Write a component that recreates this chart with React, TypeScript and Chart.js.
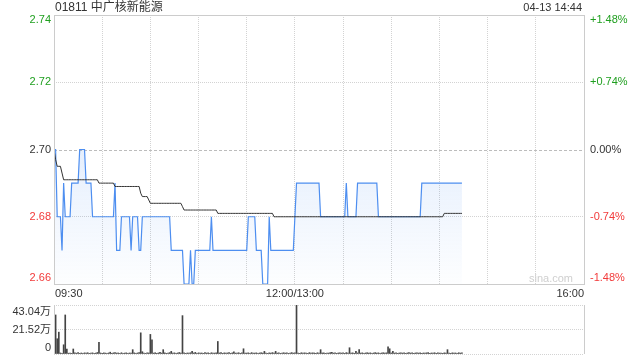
import React, { useEffect, useRef } from "react";
import { Chart, registerables } from "chart.js";

Chart.register(...registerables);

const TITLE = "01811 中广核新能源";
const TIMESTAMP = "04-13 14:44";
const PREV_CLOSE = 2.7;
const PRICE_TICKS = [2.66, 2.68, 2.7, 2.72, 2.74];
const PRICE_TICK_LABELS = ["2.66", "2.68", "2.70", "2.72", "2.74"];
const PCT_TICK_LABELS = ["-1.48%", "-0.74%", "0.00%", "+0.74%", "+1.48%"];
const TIME_GRID = [0, 30, 60, 90, 120, 150, 180, 210, 240, 270, 300, 330];
const TIME_LABELS = ["09:30", "12:00/13:00", "16:00"];
const TIME_LABEL_AT = [0, 150, 330];
const SESSION_START = 0;
const SESSION_END = 330;
const VOL_TICKS = [0, 21.52, 43.04];
const VOL_TICK_LABELS = ["0", "21.52万", "43.04万"];
const WATERMARK = "sina.com";

// one value per trading minute from 09:30 (index 0) to 14:44 (index 254)
const PRICES = [
  2.70, 2.70, 2.68, 2.68, 2.68, 2.67, 2.69, 2.68, 2.68, 2.68,
  2.68, 2.69, 2.69, 2.69, 2.69, 2.69, 2.70, 2.70, 2.70, 2.70,
  2.69, 2.69, 2.69, 2.69, 2.68, 2.68, 2.68, 2.68, 2.68, 2.68,
  2.68, 2.68, 2.68, 2.68, 2.68, 2.68, 2.68, 2.68, 2.69, 2.67,
  2.67, 2.67, 2.68, 2.68, 2.68, 2.68, 2.68, 2.68, 2.67, 2.68,
  2.68, 2.68, 2.68, 2.67, 2.67, 2.68, 2.68, 2.68, 2.68, 2.68,
  2.68, 2.68, 2.68, 2.68, 2.68, 2.68, 2.68, 2.68, 2.68, 2.68,
  2.68, 2.68, 2.68, 2.67, 2.67, 2.67, 2.67, 2.67, 2.67, 2.67,
  2.67, 2.66, 2.66, 2.66, 2.66, 2.67, 2.66, 2.66, 2.67, 2.67,
  2.67, 2.67, 2.67, 2.67, 2.67, 2.67, 2.67, 2.67, 2.68, 2.67,
  2.67, 2.67, 2.67, 2.67, 2.67, 2.67, 2.67, 2.67, 2.67, 2.67,
  2.67, 2.67, 2.67, 2.67, 2.67, 2.67, 2.67, 2.67, 2.67, 2.67,
  2.67, 2.68, 2.68, 2.68, 2.68, 2.68, 2.67, 2.67, 2.67, 2.67,
  2.66, 2.66, 2.66, 2.66, 2.68, 2.67, 2.67, 2.67, 2.67, 2.67,
  2.67, 2.67, 2.67, 2.67, 2.67, 2.67, 2.67, 2.67, 2.67, 2.67,
  2.68, 2.69, 2.69, 2.69, 2.69, 2.69, 2.69, 2.69, 2.69, 2.69,
  2.69, 2.69, 2.69, 2.69, 2.69, 2.69, 2.68, 2.68, 2.68, 2.68,
  2.68, 2.68, 2.68, 2.68, 2.68, 2.68, 2.68, 2.68, 2.68, 2.68,
  2.68, 2.68, 2.69, 2.68, 2.68, 2.68, 2.68, 2.68, 2.68, 2.69,
  2.69, 2.69, 2.69, 2.69, 2.69, 2.69, 2.69, 2.69, 2.69, 2.69,
  2.69, 2.69, 2.68, 2.68, 2.68, 2.68, 2.68, 2.68, 2.68, 2.68,
  2.68, 2.68, 2.68, 2.68, 2.68, 2.68, 2.68, 2.68, 2.68, 2.68,
  2.68, 2.68, 2.68, 2.68, 2.68, 2.68, 2.68, 2.68, 2.68, 2.69,
  2.69, 2.69, 2.69, 2.69, 2.69, 2.69, 2.69, 2.69, 2.69, 2.69,
  2.69, 2.69, 2.69, 2.69, 2.69, 2.69, 2.69, 2.69, 2.69, 2.69,
  2.69, 2.69, 2.69, 2.69, 2.69,
];

const AVG_PRICES = [
  2.700, 2.697, 2.695, 2.695, 2.695, 2.693, 2.691, 2.691, 2.691, 2.691,
  2.691, 2.691, 2.691, 2.691, 2.691, 2.691, 2.691, 2.691, 2.691, 2.691,
  2.691, 2.691, 2.691, 2.691, 2.691, 2.691, 2.691, 2.691, 2.690, 2.690,
  2.690, 2.690, 2.690, 2.690, 2.690, 2.690, 2.690, 2.690, 2.689, 2.689,
  2.689, 2.689, 2.689, 2.689, 2.689, 2.689, 2.689, 2.689, 2.689, 2.689,
  2.689, 2.689, 2.689, 2.689, 2.687, 2.686, 2.686, 2.686, 2.686, 2.685,
  2.684, 2.684, 2.684, 2.684, 2.684, 2.684, 2.684, 2.684, 2.684, 2.684,
  2.684, 2.684, 2.684, 2.684, 2.684, 2.684, 2.684, 2.684, 2.684, 2.684,
  2.683, 2.682, 2.682, 2.682, 2.682, 2.682, 2.682, 2.682, 2.682, 2.682,
  2.682, 2.682, 2.682, 2.682, 2.682, 2.682, 2.682, 2.682, 2.682, 2.682,
  2.682, 2.682, 2.681, 2.681, 2.681, 2.681, 2.681, 2.681, 2.681, 2.681,
  2.681, 2.681, 2.681, 2.681, 2.681, 2.681, 2.681, 2.681, 2.681, 2.681,
  2.681, 2.681, 2.681, 2.681, 2.681, 2.681, 2.681, 2.681, 2.681, 2.681,
  2.681, 2.681, 2.681, 2.681, 2.681, 2.681, 2.681, 2.680, 2.680, 2.680,
  2.680, 2.680, 2.680, 2.680, 2.680, 2.680, 2.680, 2.680, 2.680, 2.680,
  2.680, 2.680, 2.680, 2.680, 2.680, 2.680, 2.680, 2.680, 2.680, 2.680,
  2.680, 2.680, 2.680, 2.680, 2.680, 2.680, 2.680, 2.680, 2.680, 2.680,
  2.680, 2.680, 2.680, 2.680, 2.680, 2.680, 2.680, 2.680, 2.680, 2.680,
  2.680, 2.680, 2.680, 2.680, 2.680, 2.680, 2.680, 2.680, 2.680, 2.680,
  2.680, 2.680, 2.680, 2.680, 2.680, 2.680, 2.680, 2.680, 2.680, 2.680,
  2.680, 2.680, 2.680, 2.680, 2.680, 2.680, 2.680, 2.680, 2.680, 2.680,
  2.680, 2.680, 2.680, 2.680, 2.680, 2.680, 2.680, 2.680, 2.680, 2.680,
  2.680, 2.680, 2.680, 2.680, 2.680, 2.680, 2.680, 2.680, 2.680, 2.680,
  2.680, 2.680, 2.680, 2.680, 2.680, 2.680, 2.680, 2.680, 2.680, 2.680,
  2.680, 2.680, 2.680, 2.681, 2.681, 2.681, 2.681, 2.681, 2.681, 2.681,
  2.681, 2.681, 2.681, 2.681, 2.681,
];

// volume in 万 shares per minute
const VOLUMES = [
  0, 34.3, 13.4, 19.2, 0.9, 0.6, 8.1, 34.3, 4.4, 0.7,
  0.9, 0.6, 4.4, 1.0, 0.7, 1.2, 0.6, 0.9, 0.5, 1.0,
  0.8, 1.1, 0.6, 0.9, 1.0, 0.5, 0.8, 1.3, 10.2, 0.9,
  0.6, 1.0, 0.8, 0.5, 0.9, 1.6, 0.6, 1.0, 1.2, 0.8,
  0.9, 0.6, 1.1, 0.5, 0.8, 1.0, 0.6, 0.9, 0.8, 3.8,
  1.0, 0.6, 0.9, 1.2, 18.6, 2.0, 0.8, 0.6, 1.0, 0.9,
  17.2, 12.5, 0.8, 1.1, 0.6, 0.9, 1.5, 0.8, 3.8, 1.0,
  0.6, 0.9, 1.2, 2.3, 0.8, 1.0, 0.6, 0.9, 1.3, 0.8,
  33.7, 1.0, 0.6, 0.9, 0.8, 1.1, 2.3, 0.9, 1.4, 0.6,
  1.0, 0.8, 0.9, 0.6, 1.2, 0.8, 1.0, 0.5, 1.1, 0.9,
  0.8, 1.0, 11.0, 0.9, 1.2, 0.6, 1.0, 0.8, 0.9, 1.3,
  0.6, 1.0, 1.8, 0.8, 0.9, 1.1, 0.6, 1.0, 4.6, 0.9,
  0.8, 1.0, 0.6, 1.2, 0.9, 0.8, 1.0, 0.6, 0.9, 1.1,
  0.8, 2.3, 0.9, 0.6, 1.0, 0.8, 1.2, 0.9, 2.3, 0.8,
  1.0, 0.6, 0.9, 1.1, 0.8, 1.0, 0.6, 0.9, 1.2, 0.8,
  1.0, 43.04, 0.9, 0.6, 1.1, 0.8, 1.0, 0.9, 0.6, 1.2,
  0.8, 1.0, 0.9, 0.6, 1.1, 0.8, 3.8, 0.9, 1.0, 0.6,
  0.9, 0.8, 1.2, 1.5, 0.8, 1.0, 0.6, 0.9, 1.1, 0.8,
  1.0, 0.6, 1.2, 0.9, 5.5, 0.8, 1.0, 0.6, 2.3, 0.9,
  3.8, 0.8, 1.0, 0.6, 0.9, 1.1, 0.8, 1.0, 0.6, 0.9,
  1.2, 0.8, 1.0, 0.6, 0.9, 1.1, 0.8, 1.0, 6.4, 4.6,
  0.9, 2.3, 0.8, 1.0, 0.6, 0.9, 1.1, 0.8, 1.0, 0.6,
  0.9, 1.2, 0.8, 1.0, 0.6, 0.9, 1.1, 0.8, 1.0, 0.6,
  0.9, 0.8, 1.0, 1.2, 0.6, 0.9, 0.8, 1.1, 0.6, 1.0,
  0.8, 0.9, 0.6, 1.0, 0.8, 3.8, 0.9, 0.6, 1.0, 0.8,
  0.9, 0.6, 1.1, 0.8, 1.0,
];

const FONT = '"Liberation Sans", Arial, "Noto Sans CJK SC", sans-serif';
const UP = "#1f9f1f";
const DOWN = "#f23a3a";
const FLAT = "#333333";
const FRAME = "#cccccc";
const GRID = "#d3d3d3";

function colorFor(v: number) {
  if (v > PREV_CLOSE + 1e-9) return UP;
  if (v < PREV_CLOSE - 1e-9) return DOWN;
  return FLAT;
}

const mainOverlay = {
  id: "mainOverlay",
  beforeDatasetsDraw(chart: any) {
    const { ctx, chartArea: a, scales } = chart;
    const yp = Math.round(scales.y.getPixelForValue(PREV_CLOSE)) + 0.5;
    ctx.save();
    ctx.strokeStyle = "#bcbcbc";
    ctx.lineWidth = 1;
    ctx.setLineDash([3, 2]);
    ctx.beginPath();
    ctx.moveTo(a.left, yp);
    ctx.lineTo(a.right, yp);
    ctx.stroke();
    ctx.restore();
  },
  afterDraw(chart: any) {
    const { ctx, chartArea: a, scales } = chart;
    const x = scales.x;
    const y = scales.y;
    ctx.save();
    ctx.setLineDash([]);
    ctx.strokeStyle = FRAME;
    ctx.lineWidth = 1;
    const l = Math.round(a.left), t = Math.round(a.top), r = Math.round(a.right), b = Math.round(a.bottom);
    ctx.strokeRect(l + 0.5, t + 0.5, r - l, b - t);

    ctx.font = `11px ${FONT}`;
    ctx.textBaseline = "middle";
    PRICE_TICKS.forEach((v, i) => {
      const py = Math.min(Math.max(y.getPixelForValue(v), a.top + 5), a.bottom - 6);
      ctx.fillStyle = colorFor(v);
      ctx.textAlign = "right";
      ctx.fillText(PRICE_TICK_LABELS[i], a.left - 3, py);
      ctx.textAlign = "left";
      ctx.fillText(PCT_TICK_LABELS[i], a.right + 6, py);
    });

    ctx.fillStyle = "#333333";
    TIME_LABELS.forEach((txt, i) => {
      const px = x.getPixelForValue(TIME_LABEL_AT[i]);
      if (i === 0) {
        ctx.textAlign = "left";
        ctx.fillText(txt, px + 1, a.bottom + 10);
      } else if (i === TIME_LABELS.length - 1) {
        ctx.textAlign = "right";
        ctx.fillText(txt, px, a.bottom + 10);
      } else {
        ctx.textAlign = "center";
        ctx.fillText(txt, px, a.bottom + 10);
      }
    });

    ctx.font = `12px ${FONT}`;
    ctx.textAlign = "left";
    ctx.fillText(TITLE, a.left + 1, 8);
    ctx.font = `11px ${FONT}`;
    ctx.textAlign = "right";
    ctx.fillText(TIMESTAMP, a.right - 2, 8);

    ctx.fillStyle = "#cfcfcf";
    ctx.fillText(WATERMARK, a.right - 11, a.bottom - 5);
    ctx.restore();
  },
};

const volOverlay = {
  id: "volOverlay",
  afterDraw(chart: any) {
    const { ctx, chartArea: a, scales } = chart;
    const y = scales.y;
    ctx.save();
    ctx.setLineDash([]);
    ctx.strokeStyle = FRAME;
    ctx.lineWidth = 1;
    const l = Math.round(a.left) + 0.5, r = Math.round(a.right) + 0.5;
    ctx.beginPath();
    ctx.moveTo(l, a.top);
    ctx.lineTo(l, a.bottom);
    ctx.moveTo(r, a.top);
    ctx.lineTo(r, a.bottom);
    ctx.stroke();
    ctx.font = `11px ${FONT}`;
    ctx.textBaseline = "middle";
    ctx.textAlign = "right";
    ctx.fillStyle = "#333333";
    VOL_TICKS.forEach((v, i) => {
      const py = Math.min(Math.max(y.getPixelForValue(v), a.top + 7), a.bottom - 6);
      ctx.fillText(VOL_TICK_LABELS[i], a.left - 3, py);
    });
    ctx.restore();
  },
};

export default function App() {
  const mainRef = useRef<HTMLCanvasElement>(null);
  const volRef = useRef<HTMLCanvasElement>(null);

  useEffect(() => {
    const pricePoints = PRICES.map((v, i) => ({ x: i, y: v }));
    const avgPoints = AVG_PRICES.map((v, i) => ({ x: i, y: v }));
    const volPoints = VOLUMES.map((v, i) => ({ x: i, y: v }));

    const main = new Chart(mainRef.current as HTMLCanvasElement, {
      type: "line",
      data: {
        datasets: [
          {
            data: avgPoints,
            borderColor: "#333333",
            borderWidth: 1,
            pointRadius: 0,
            fill: false,
            tension: 0,
          },
          {
            data: pricePoints,
            borderColor: "#4d8ef0",
            borderWidth: 1.2,
            pointRadius: 0,
            tension: 0,
            fill: "start",
            backgroundColor: (c: any) => {
              const { chart } = c;
              const area = chart.chartArea;
              if (!area) return "rgba(77,142,240,0.08)";
              const top = chart.scales.y.getPixelForValue(PREV_CLOSE);
              const g = chart.ctx.createLinearGradient(0, top, 0, area.bottom);
              g.addColorStop(0, "rgba(77,142,240,0.14)");
              g.addColorStop(1, "rgba(77,142,240,0.01)");
              return g;
            },
          },
        ],
      },
      options: {
        responsive: false,
        animation: false,
        devicePixelRatio: 1,
        events: [],
        layout: { padding: { left: 54, right: 56, top: 15, bottom: 16 }, autoPadding: false },
        plugins: { legend: { display: false }, tooltip: { enabled: false } },
        scales: {
          x: {
            type: "linear",
            min: SESSION_START,
            max: SESSION_END,
            afterBuildTicks: (s: any) => {
              s.ticks = TIME_GRID.map((v) => ({ value: v }));
            },
            ticks: { display: false },
            grid: { color: GRID, drawTicks: false },
            border: { display: false, dash: [1, 1] },
          },
          y: {
            type: "linear",
            min: PRICE_TICKS[0],
            max: PRICE_TICKS[PRICE_TICKS.length - 1],
            afterBuildTicks: (s: any) => {
              s.ticks = PRICE_TICKS.map((v) => ({ value: v }));
            },
            ticks: { display: false },
            grid: {
              color: (c: any) =>
                c.tick && Math.abs(c.tick.value - PREV_CLOSE) < 1e-9 ? "rgba(0,0,0,0)" : GRID,
              drawTicks: false,
            },
            border: { display: false, dash: [1, 1] },
          },
        },
      },
      plugins: [mainOverlay],
    } as any);

    const vol = new Chart(volRef.current as HTMLCanvasElement, {
      type: "bar",
      data: {
        datasets: [
          {
            data: volPoints,
            backgroundColor: "#444444",
            borderWidth: 0,
            barThickness: 1,
          },
        ],
      },
      options: {
        responsive: false,
        animation: false,
        devicePixelRatio: 1,
        events: [],
        layout: { padding: { left: 54, right: 56, top: 5, bottom: 6 }, autoPadding: false },
        plugins: { legend: { display: false }, tooltip: { enabled: false } },
        scales: {
          x: {
            type: "linear",
            min: SESSION_START,
            max: SESSION_END,
            offset: false,
            ticks: { display: false },
            grid: { display: false, drawTicks: false },
            border: { display: false },
          },
          y: {
            type: "linear",
            min: VOL_TICKS[0],
            max: VOL_TICKS[VOL_TICKS.length - 1],
            afterBuildTicks: (s: any) => {
              s.ticks = VOL_TICKS.map((v) => ({ value: v }));
            },
            ticks: { display: false },
            grid: { color: GRID, drawTicks: false },
            border: { display: false, dash: [1, 1] },
          },
        },
      },
      plugins: [volOverlay],
    } as any);

    return () => {
      main.destroy();
      vol.destroy();
    };
  }, []);

  return (
    <div style={{ position: "fixed", left: 0, top: 0, width: 640, height: 360, background: "#ffffff" }}>
      <canvas ref={mainRef} width={640} height={300} style={{ position: "absolute", left: 0, top: 0 }} />
      <canvas ref={volRef} width={640} height={60} style={{ position: "absolute", left: 0, top: 300 }} />
    </div>
  );
}
